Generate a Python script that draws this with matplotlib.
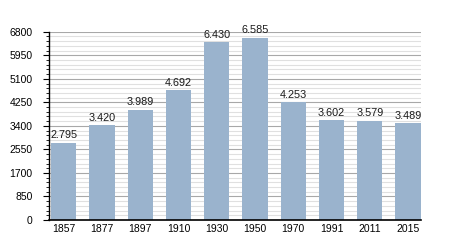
import matplotlib
matplotlib.use("Agg")
import matplotlib.pyplot as plt
from matplotlib.ticker import MultipleLocator

years = ["1857", "1877", "1897", "1910", "1930", "1950", "1970", "1991", "2011", "2015"]
population = [2795, 3420, 3989, 4692, 6430, 6585, 4253, 3602, 3579, 3489]
labels = ["2.795", "3.420", "3.989", "4.692", "6.430", "6.585", "4.253", "3.602", "3.579", "3.489"]
yticks = [0, 850, 1700, 2550, 3400, 4250, 5100, 5950, 6800]

plt.rcParams['font.family'] = ['Liberation Sans', 'DejaVu Sans']
fig = plt.figure(figsize=(4.5, 2.5), dpi=100)
ax = fig.add_axes([0.109, 0.12, 0.826, 0.753])

x = list(range(len(years)))
ax.bar(x, population, width=0.66, color="#9ab3cd", zorder=3)
for xi, v, lab in zip(x, population, labels):
    ax.text(xi, v + 90, lab, ha="center", va="bottom", fontsize=7.8, color="#1a1a1a", zorder=4)

ax.set_xlim(-0.38, 9.33)
ax.set_ylim(0, 6800)
ax.set_xticks(x)
ax.set_xticklabels(years, fontsize=7.5)
ax.set_yticks(yticks)
ax.set_yticklabels([str(t) for t in yticks], fontsize=7.5)
ax.yaxis.set_minor_locator(MultipleLocator(170))
ax.grid(axis="y", which="major", color="#a8a8a8", linewidth=0.8, zorder=1)
ax.grid(axis="y", which="minor", color="#e0e0e0", linewidth=0.8, zorder=0)
ax.tick_params(axis="y", which="major", length=4, width=0.8, direction="out", pad=8)
ax.tick_params(axis="y", which="minor", length=2, width=0.6, direction="out")
ax.tick_params(axis="x", length=0, pad=3)
for s in ["top", "right"]:
    ax.spines[s].set_visible(False)
for s in ["left", "bottom"]:
    ax.spines[s].set_zorder(5)
ax.spines["left"].set_linewidth(1.0)
ax.spines["bottom"].set_linewidth(1.2)

fig.savefig("out.png", dpi=100)
